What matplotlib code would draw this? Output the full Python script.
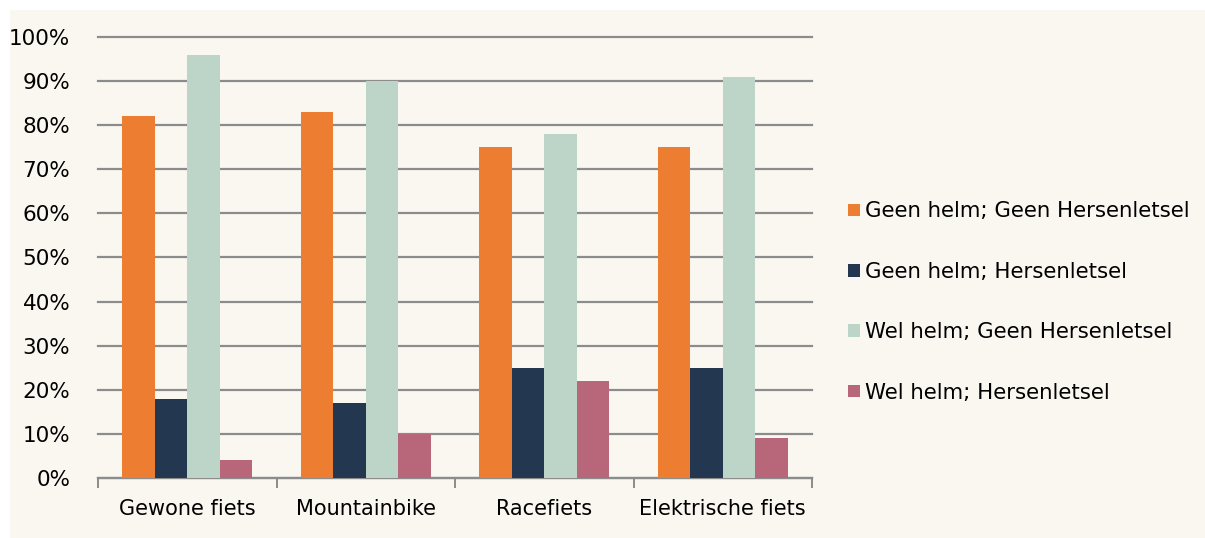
import numpy as np
import matplotlib.pyplot as plt
from matplotlib.patches import Rectangle

categories = ['Gewone fiets', 'Mountainbike', 'Racefiets', 'Elektrische fiets']
series_names = ['Geen helm; Geen Hersenletsel', 'Geen helm; Hersenletsel',
                'Wel helm; Geen Hersenletsel', 'Wel helm; Hersenletsel']
geen_geen = [82, 83, 75, 75]
geen_wel = [18, 17, 25, 25]
wel_geen = [96, 90, 78, 91]
wel_wel = [4, 10, 22, 9]
colors = ['#ED7D31', '#243750', '#BDD5C9', '#B8677A']

plt.rcParams['font.family'] = ['DejaVu Sans']
fig = plt.figure(figsize=(12.05, 5.38), dpi=100)
fig.patch.set_facecolor('white')
fig.patches.append(Rectangle((10 / 1205, 0), 1 - 10 / 1205, 528 / 538,
                             transform=fig.transFigure, facecolor='#FAF7F0',
                             edgecolor='none', zorder=-1))

ax = fig.add_axes([98 / 1205, 60 / 538, 714 / 1205, 441 / 538])
ax.set_facecolor('none')

x = np.arange(len(categories))
w = 0.182
all_series = [geen_geen, geen_wel, wel_geen, wel_wel]
for i, vals in enumerate(all_series):
    ax.bar(x + (i - 1.5) * w, vals, width=w, color=colors[i],
           label=series_names[i], zorder=3)

ax.set_xlim(-0.5, len(categories) - 0.5)
ax.set_ylim(0, 100)
ax.set_yticks(np.arange(0, 101, 10))
ax.set_yticklabels([f'{v}%' for v in range(0, 101, 10)], fontsize=15.5)
ax.yaxis.grid(True, color='#8C8C8C', linewidth=1.6, zorder=0)
for gl in ax.get_ygridlines():
    gl.set_clip_on(False)
ax.tick_params(axis='y', length=0, pad=20)

ax.set_xticks(x)
ax.set_xticklabels(categories, fontsize=15)
ax.tick_params(axis='x', length=0, pad=15)
ax.set_xticks(np.arange(-0.5, len(categories)), minor=True)
ax.tick_params(axis='x', which='minor', length=7, width=1.4, color='#8C8C8C')

for s in ['left', 'right', 'top']:
    ax.spines[s].set_visible(False)
ax.spines['bottom'].set_color('#8C8C8C')
ax.spines['bottom'].set_linewidth(1.6)

leg = fig.legend(loc='center left', bbox_to_anchor=(829 / 1205, 236 / 538),
                 frameon=False, fontsize=15.3, handlelength=0.55,
                 handleheight=0.55, handletextpad=0.25, labelspacing=1.9)

fig.savefig('out.png', dpi=100, facecolor=fig.get_facecolor())
